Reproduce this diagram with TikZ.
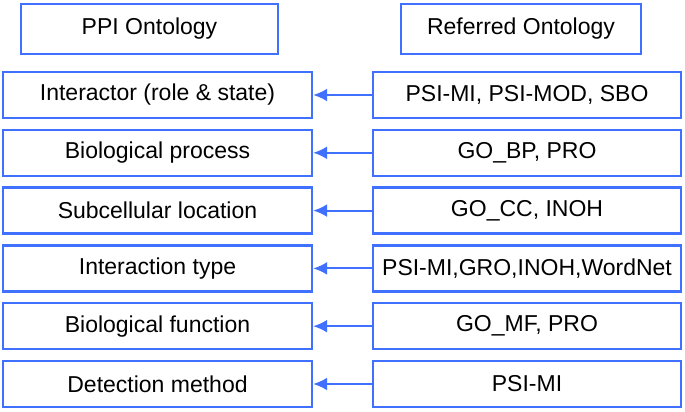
\documentclass[tikz,border=0pt]{standalone}
\usepackage{fontspec}
\setmainfont{Liberation Sans}
\usepackage{xcolor}
\usetikzlibrary{arrows.meta}
\definecolor{ontoblue}{RGB}{64,112,255}
\tikzset{
	box/.style={draw=ontoblue, line width=2.4pt, fill=white, inner sep=0pt,
		minimum height=46pt, font=\fontsize{23}{27}\selectfont},
	lbox/.style={box, minimum width=309pt},
	rbox/.style={box, minimum width=308pt},
	link/.style={ontoblue, line width=2pt, -{Latex[length=14pt,width=13pt]}}
}
\begin{document}
\begin{tikzpicture}[x=1pt,y=-1pt]
	\useasboundingbox (0,0) rectangle (685,412);
	% headers
	\node[box, minimum width=257pt, minimum height=50pt] (ppi) at (149.5,29) {PPI Ontology};
	\node[box, minimum width=240pt, minimum height=50pt] (ref) at (521,29) {Referred Ontology};
	
	% left column
	\foreach \n/\y/\t in
	{1/95/{Interactor (role \& state)}, 2/152.8/{Biological process},
	 3/210.6/{Subcellular location}, 4/268.4/{Interaction type},
	 5/326.2/{Biological function}, 6/384/{Detection method}}{
		\node[lbox] (l\n) at (157.5,\y) {\t};
	}
	
	% right column
	\foreach \n/\y/\t in
	{1/95/{PSI-MI, PSI-MOD, SBO}, 2/152.8/{GO\_BP, PRO},
	 3/210.6/{GO\_CC, INOH}, 4/268.4/{PSI-MI,GRO,INOH,WordNet},
	 5/326.2/{GO\_MF, PRO}, 6/384/{PSI-MI}}{
		\node[rbox] (r\n) at (527,\y) {\t};
	}
	
	\foreach \n in {1,...,6}{
		\draw[link] (r\n.west) -- (l\n.east);
	}
\end{tikzpicture}
\end{document}
